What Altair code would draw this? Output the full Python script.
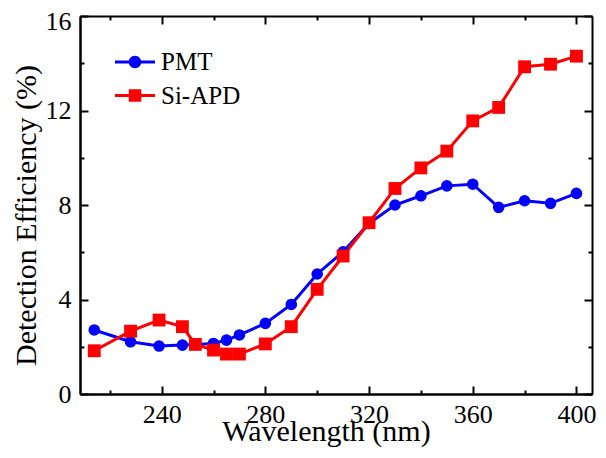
import altair as alt
import pandas as pd

# ---- data ----
wavelength = [214, 228, 239, 248, 253, 260, 265, 270, 280, 290, 300,
              310, 320, 330, 340, 350, 360, 370, 380, 390, 400]
pmt = [2.71, 2.21, 2.03, 2.07, 2.10, 2.14, 2.28, 2.50, 2.99, 3.79, 5.08,
       6.02, 7.22, 8.00, 8.39, 8.81, 8.88, 7.90, 8.18, 8.07, 8.49]
si_apd = [1.83, 2.66, 3.13, 2.85, 2.10, 1.86, 1.69, 1.69, 2.12, 2.85, 4.43,
          5.84, 7.25, 8.70, 9.57, 10.28, 11.56, 12.13, 13.85, 13.96, 14.30]
series_names = ["PMT", "Si-APD"]
series_colors = ["#0000FF", "#FF0000"]
x_major = [240, 280, 320, 360, 400]
x_ticks = [220, 240, 260, 280, 300, 320, 340, 360, 380, 400]
y_major = [0, 4, 8, 12, 16]
y_ticks = [0, 2, 4, 6, 8, 10, 12, 14, 16]
x_title = "Wavelength (nm)"
y_title = "Detection Efficiency (%)"

rows = []
for name, vals in zip(series_names, [pmt, si_apd]):
    for w, v in zip(wavelength, vals):
        rows.append({"wavelength": w, "value": v, "series": name})
df = pd.DataFrame(rows)

W, H = 512, 378
FONT = "Liberation Serif"
xdom = [208.5, 406]
ydom = [0, 16]


def xs():
    return alt.Scale(domain=xdom, nice=False, zero=False)


def ys():
    return alt.Scale(domain=ydom, nice=False, zero=False)


cs = alt.Scale(domain=series_names, range=series_colors)

x_tick_size = {"condition": {"test": "datum.value % 40 === 0", "value": 8}, "value": 4}
y_tick_size = {"condition": {"test": "datum.value % 4 === 0", "value": 8}, "value": 4}

axis_bottom = alt.Axis(orient="bottom", values=x_major, ticks=False, labelFontSize=26,
                       labelPadding=7, labelFlush=False, labelOverlap=False,
                       title=x_title, titleFontSize=30, titleX=246, titleY=46,
                       titleBaseline="alphabetic", grid=False)
axis_left = alt.Axis(orient="left", values=y_major, ticks=False, labelFontSize=26,
                     labelPadding=9, labelFlush=False, labelOverlap=False,
                     labelOffset={"condition": {"test": "datum.value === 16", "value": 5}, "value": 0},
                     title=y_title, titleFontSize=30, titleX=-45, titleY=199,
                     titleAngle=270, titleBaseline="alphabetic", grid=False)
# inward ticks on the bottom and left edges
axis_x_in_bottom = alt.Axis(orient="top", offset=-H, values=x_ticks, labels=False,
                            tickSize=x_tick_size, title=None, grid=False)
axis_y_in_left = alt.Axis(orient="right", offset=-W, values=y_ticks, labels=False,
                          tickSize=y_tick_size, title=None, grid=False)
# inward ticks on the top and right edges
axis_x_in_top = alt.Axis(orient="bottom", offset=-H, values=x_ticks, labels=False,
                         tickSize=x_tick_size, title=None, grid=False)
axis_y_in_right = alt.Axis(orient="left", offset=-W, values=y_ticks, labels=False,
                           tickSize=y_tick_size, title=None, grid=False)

base = alt.Chart(df)

lines = base.mark_line(strokeWidth=3).encode(
    x=alt.X("wavelength:Q", scale=xs(), axis=axis_bottom),
    y=alt.Y("value:Q", scale=ys(), axis=axis_left),
    color=alt.Color("series:N", scale=cs, legend=None),
)

circles = base.transform_filter(alt.datum.series == "PMT").mark_point(
    filled=True, opacity=1, shape="circle", size=135).encode(
    x=alt.X("wavelength:Q", scale=xs(), axis=axis_x_in_bottom),
    y=alt.Y("value:Q", scale=ys(), axis=axis_y_in_left),
    color=alt.Color("series:N", scale=cs, legend=None),
)

squares = base.transform_filter(alt.datum.series == "Si-APD").mark_point(
    filled=True, opacity=1, shape="square", size=165).encode(
    x=alt.X("wavelength:Q", scale=xs(), axis=None),
    y=alt.Y("value:Q", scale=ys(), axis=None),
    color=alt.Color("series:N", scale=cs, legend=None),
)

# legend symbols: a short thick line with the marker on it
line_part = "M-1.6,-0.12H1.6V0.12H-1.6Z"
circle_path = line_part + "M0.5,0A0.5,0.5,0,1,1,-0.5,0A0.5,0.5,0,1,1,0.5,0Z"
square_path = line_part + "M-0.5,-0.5H0.5V0.5H-0.5Z"


def legend_for(i, path):
    return alt.Legend(orient="none", legendX=42.5, legendY=33.5 + 33.5 * i, title=None,
                      labelFont=FONT, labelFontSize=25, labelColor="black",
                      symbolType=path, symbolSize=625, symbolStrokeWidth=0,
                      symbolOpacity=1, labelOffset=13.5, padding=0)


def legend_layer(i, path, x_axis, y_axis):
    name = series_names[i]
    return base.transform_filter("false").mark_point(filled=True, opacity=1).encode(
        x=alt.X("wavelength:Q", scale=xs(), axis=x_axis),
        y=alt.Y("value:Q", scale=ys(), axis=y_axis),
        fill=alt.Fill("series:N",
                      scale=alt.Scale(domain=[name], range=[series_colors[i]]),
                      legend=legend_for(i, path)),
    )


leg_pmt = legend_layer(0, circle_path, axis_x_in_top, axis_y_in_right)
leg_apd = legend_layer(1, square_path, None, None)

chart = alt.layer(lines, circles, squares, leg_pmt, leg_apd).resolve_scale(
    x="independent", y="independent", fill="independent"
).resolve_axis(
    x="independent", y="independent"
).resolve_legend(
    fill="independent"
).properties(
    width=W, height=H, autosize="none",
    padding={"left": 72, "top": 8, "right": 6, "bottom": 56},
).configure_view(stroke=None).configure_axis(
    domainColor="black", domainWidth=2, tickColor="black", tickWidth=2,
    labelColor="black", titleColor="black", labelFont=FONT, titleFont=FONT,
    titleFontWeight="normal",
)

chart.save("out.html", embed_options={"renderer": "svg", "actions": False})
